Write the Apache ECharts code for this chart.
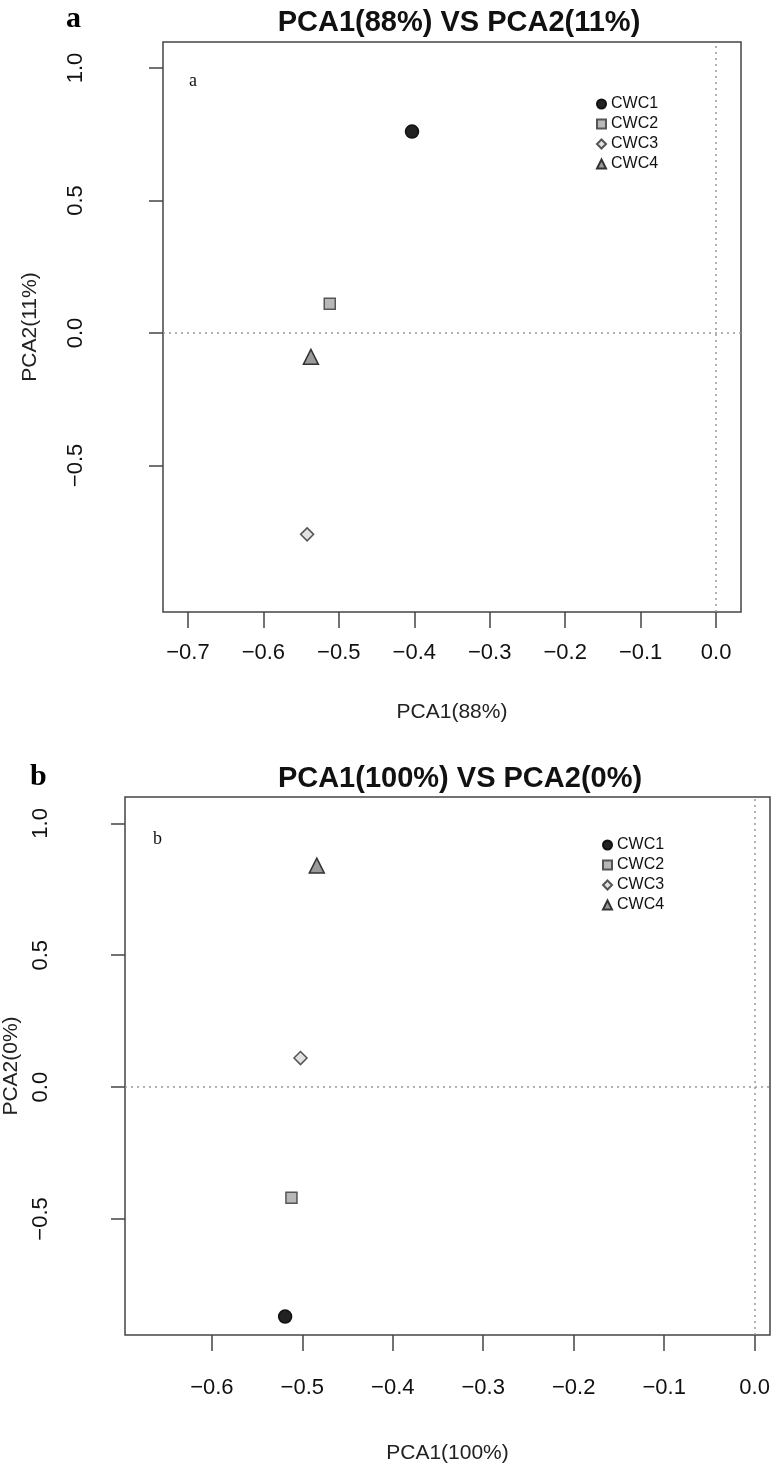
<!DOCTYPE html>
<html>
<head>
<meta charset="utf-8">
<script src="https://cdn.jsdelivr.net/npm/echarts@6/dist/echarts.min.js"></script>
<style>
html,body{margin:0;padding:0;background:#fff;}
#chart{width:774px;height:1479px;}
</style>
</head>
<body>
<div id="chart"></div>
<script>
// ---- data ----
const samples = ['CWC1', 'CWC2', 'CWC3', 'CWC4'];
// panel a: PCA1(88%) vs PCA2(11%)
const aPCA1 = [-0.403, -0.512, -0.542, -0.537];
const aPCA2 = [0.76, 0.11, -0.76, -0.09];
// panel b: PCA1(100%) vs PCA2(0%)
const bPCA1 = [-0.519, -0.512, -0.502, -0.484];
const bPCA2 = [-0.87, -0.42, 0.11, 0.84];
const aXTicks = [-0.7, -0.6, -0.5, -0.4, -0.3, -0.2, -0.1, 0.0];
const bXTicks = [-0.6, -0.5, -0.4, -0.3, -0.2, -0.1, 0.0];
const yTicks = [-0.5, 0.0, 0.5, 1.0];

const symbols = ['circle', 'rect', 'diamond', 'triangle'];
const fills = ['#222222', '#b8b8b8', '#e2e2e2', '#9a9a9a'];
const borders = ['#111111', '#555555', '#555555', '#333333'];
const sizes = [13, 11, 13, 15];

const FONT = '"Liberation Sans", Arial, Helvetica, sans-serif';

function fmt(v){ return v.toFixed(1).replace('-', '\u2212'); }

function xAxisOf(idx, min, max, ticks, name, margin, gap){
  return {
    type: 'value', gridIndex: idx, min: min, max: max,
    name: name, nameLocation: 'middle', nameGap: gap,
    nameTextStyle: {fontFamily: FONT, fontSize: 21, color: '#222'},
    axisLine: {show: false, onZero: false},
    axisTick: {show: true, inside: false, length: 16, customValues: ticks, lineStyle: {color: '#444', width: 1.5}},
    axisLabel: {customValues: ticks, formatter: fmt, margin: margin, fontFamily: FONT, fontSize: 22, color: '#111'},
    splitLine: {show: false}
  };
}
function yAxisOf(idx, min, max, name, margin, gap){
  return {
    type: 'value', gridIndex: idx, min: min, max: max,
    name: name, nameLocation: 'middle', nameGap: gap,
    nameTextStyle: {fontFamily: FONT, fontSize: 21, color: '#222'},
    axisLine: {show: false, onZero: false},
    axisTick: {show: true, inside: false, length: 14, customValues: yTicks, lineStyle: {color: '#444', width: 1.5}},
    axisLabel: {customValues: yTicks, formatter: fmt, rotate: 90, margin: margin, fontFamily: FONT, fontSize: 22, color: '#111'},
    splitLine: {show: false}
  };
}

function seriesOf(panel, xs, ys){
  return samples.map(function(s, i){
    const item = {
      name: s, type: 'scatter', xAxisIndex: panel, yAxisIndex: panel,
      symbol: symbols[i], symbolSize: sizes[i],
      itemStyle: {color: fills[i], borderColor: borders[i], borderWidth: 1.5, opacity: 1},
      data: [[xs[i], ys[i]]],
      z: 3
    };
    if (i === 0) {
      item.markLine = {
        silent: true, symbol: 'none', label: {show: false},
        lineStyle: {type: [2, 4], color: '#999', width: 1.5},
        data: [{xAxis: 0}, {yAxis: 0}],
        z: 1
      };
    }
    return item;
  });
}

const chart = echarts.init(document.getElementById('chart'), null, {renderer: 'canvas'});
const legendCommon = {
  orient: 'vertical', itemWidth: 9, itemHeight: 9, itemGap: 4,
  textStyle: {fontFamily: FONT, fontSize: 16, color: '#111'},
  selectedMode: false
};
chart.setOption({
  animation: false,
  backgroundColor: '#fff',
  title: [
    {text: 'PCA1(88%) VS PCA2(11%)', left: 454, top: 3, textAlign: 'center',
     textStyle: {fontFamily: FONT, fontSize: 29, fontWeight: 'bold', color: '#111'}},
    {text: 'PCA1(100%) VS PCA2(0%)', left: 455, top: 759, textAlign: 'center',
     textStyle: {fontFamily: FONT, fontSize: 29, fontWeight: 'bold', color: '#111'}}
  ],
  legend: [
    Object.assign({}, legendCommon, {data: samples.map(function(s){return {name: s};}), left: 591, top: 91}),
    Object.assign({}, legendCommon, {data: samples.map(function(s){return {name: s};}), left: 597, top: 832})
  ],
  grid: [
    {left: 163, top: 42, width: 578, height: 570, show: true, borderColor: '#444', borderWidth: 1.5, backgroundColor: 'transparent', containLabel: false, outerBoundsMode: 'none'},
    {left: 125, top: 797, width: 645, height: 538, show: true, borderColor: '#444', borderWidth: 1.5, backgroundColor: 'transparent', containLabel: false, outerBoundsMode: 'none'}
  ],
  xAxis: [
    xAxisOf(0, -0.733, 0.033, aXTicks, 'PCA1(88%)', 30, 90),
    xAxisOf(1, -0.696, 0.017, bXTicks, 'PCA1(100%)', 42, 108)
  ],
  yAxis: [
    yAxisOf(0, -1.053, 1.098, 'PCA2(11%)', 76, 122),
    yAxisOf(1, -0.94, 1.10, 'PCA2(0%)', 73, 100)
  ],
  graphic: [
    {type: 'text', left: 66, top: 4, style: {text: 'a', font: 'bold 30px "Liberation Serif", serif', fill: '#000'}},
    {type: 'text', left: 30, top: 762, style: {text: 'b', font: 'bold 30px "Liberation Serif", serif', fill: '#000'}},
    {type: 'text', left: 189, top: 72, style: {text: 'a', font: '18px "Liberation Serif", serif', fill: '#111'}},
    {type: 'text', left: 153, top: 830, style: {text: 'b', font: '18px "Liberation Serif", serif', fill: '#111'}}
  ],
  series: seriesOf(0, aPCA1, aPCA2).concat(seriesOf(1, bPCA1, bPCA2))
});
</script>
</body>
</html>
